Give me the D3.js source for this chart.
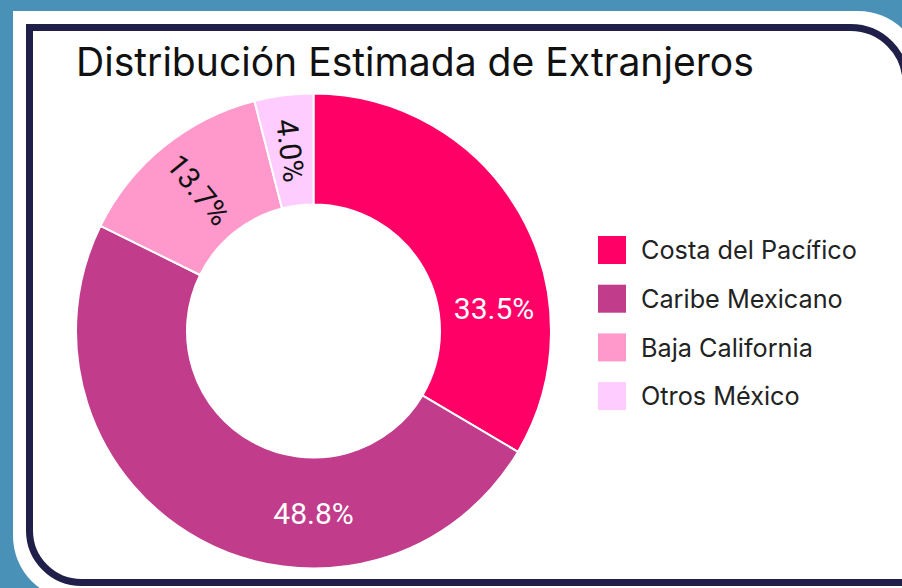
<!DOCTYPE html>
<html>
<head>
<meta charset="utf-8">
<script src="https://cdn.jsdelivr.net/npm/d3@7/dist/d3.min.js"></script>
<style>
  html, body { margin: 0; padding: 0; background: #4a91b8; }
  svg { display: block; }
</style>
</head>
<body>
<svg id="chart" width="902" height="588"></svg>
<script>
// ---- data ----
const title = "Distribución Estimada de Extranjeros";
const categories = ["Costa del Pacífico", "Caribe Mexicano", "Baja California", "Otros México"];
const values = [33.5, 48.8, 13.7, 4.0];
const colors = ["#ff0066", "#c13c8a", "#ff99cc", "#ffccff"];
const labelColors = ["#ffffff", "#ffffff", "#111111", "#111111"];

const W = 902, H = 588;
const svg = d3.select("#chart");

// background
svg.append("rect").attr("width", W).attr("height", H).attr("fill", "#4a91b8");

function cardPath(x0, y0, x1, y1, rTL, rTR, rBR, rBL) {
  const p = d3.path();
  p.moveTo(x0 + rTL, y0);
  p.lineTo(x1 - rTR, y0);
  if (rTR) p.arcTo(x1, y0, x1, y0 + rTR, rTR);
  p.lineTo(x1, y1 - rBR);
  if (rBR) p.arcTo(x1, y1, x1 - rBR, y1, rBR);
  p.lineTo(x0 + rBL, y1);
  if (rBL) p.arcTo(x0, y1, x0, y1 - rBL, rBL);
  p.lineTo(x0, y0 + rTL);
  if (rTL) p.arcTo(x0, y0, x0 + rTL, y0, rTL);
  p.closePath();
  return p.toString();
}

// white card
svg.append("path")
  .attr("d", cardPath(13, 11, 922, 600, 0, 64, 0, 64))
  .attr("fill", "#ffffff");
// dark bordered card (right edge runs off the canvas)
svg.append("path")
  .attr("d", cardPath(29.5, 27.5, 906, 582.5, 0, 55.5, 0, 52))
  .attr("fill", "#ffffff")
  .attr("stroke", "#1f1f4a")
  .attr("stroke-width", 7);

// title
const titleText = svg.append("text")
  .attr("x", 76).attr("y", 76)
  .attr("font-family", "Inter, 'Noto Sans', sans-serif")
  .attr("font-size", 36)
  .attr("fill", "#111111")
  .text(title);
{
  const w = titleText.node().getComputedTextLength();
  titleText.attr("font-size", 36 * 678 / w);
}

// donut
const cx = 313.5, cy = 331;
const outerR = 237.5, innerR = 126.5;
const pie = d3.pie().sort(null).value(d => d.value);
const arcs = pie(categories.map((c, i) => ({ cat: c, value: values[i], i })));
const arc = d3.arc().innerRadius(innerR).outerRadius(outerR);

const g = svg.append("g").attr("transform", `translate(${cx},${cy})`);
g.selectAll("path.slice")
  .data(arcs)
  .join("path")
  .attr("class", "slice")
  .attr("d", arc)
  .attr("fill", d => colors[d.data.i])
  .attr("stroke", "#ffffff")
  .attr("stroke-width", 2)
  .attr("stroke-linejoin", "bevel");

// labels
const total = d3.sum(values);
const labelR = (innerR + outerR) / 2;
const fmt = d3.format(".1f");
arcs.forEach(d => {
  const frac = d.data.value / total;
  const mid = (d.startAngle + d.endAngle) / 2;
  let ang, rot;
  if (frac < 0.2) {
    ang = mid;
    const deg = ang * 180 / Math.PI;
    rot = deg > 180 ? deg - 270 : deg - 90;
  } else {
    // horizontal label: centre of the slice part lying in the quadrant
    // around the nearest cardinal direction
    const q = Math.PI / 2;
    const card = Math.round(mid / q) * q;
    const a0 = Math.max(d.startAngle, card - q / 2);
    const a1 = Math.min(d.endAngle, card + q / 2);
    ang = (a0 + a1) / 2;
    rot = 0;
  }
  const x = labelR * Math.sin(ang), y = -labelR * Math.cos(ang);
  g.append("text")
    .attr("transform", `translate(${x},${y}) rotate(${rot})`)
    .attr("text-anchor", "middle")
    .attr("dy", "0.36em")
    .attr("font-family", "Roboto, sans-serif")
    .attr("font-size", 30)
    .attr("fill", labelColors[d.data.i])
    .text(fmt(d.data.value) + "%");
});

// legend
const legend = svg.append("g").attr("transform", "translate(598,236)");
const items = legend.selectAll("g")
  .data(categories)
  .join("g")
  .attr("transform", (d, i) => `translate(0,${i * 48.7})`);
items.append("rect")
  .attr("width", 28).attr("height", 28)
  .attr("fill", (d, i) => colors[i]);
const ltexts = items.append("text")
  .attr("x", 43).attr("y", 14).attr("dy", "0.36em")
  .attr("font-family", "Inter, 'Noto Sans', sans-serif")
  .attr("font-size", 24)
  .attr("fill", "#222222")
  .text(d => d);
{
  const w = ltexts.nodes()[0].getComputedTextLength();
  ltexts.attr("font-size", 24 * 216 / w);
}
</script>
</body>
</html>
